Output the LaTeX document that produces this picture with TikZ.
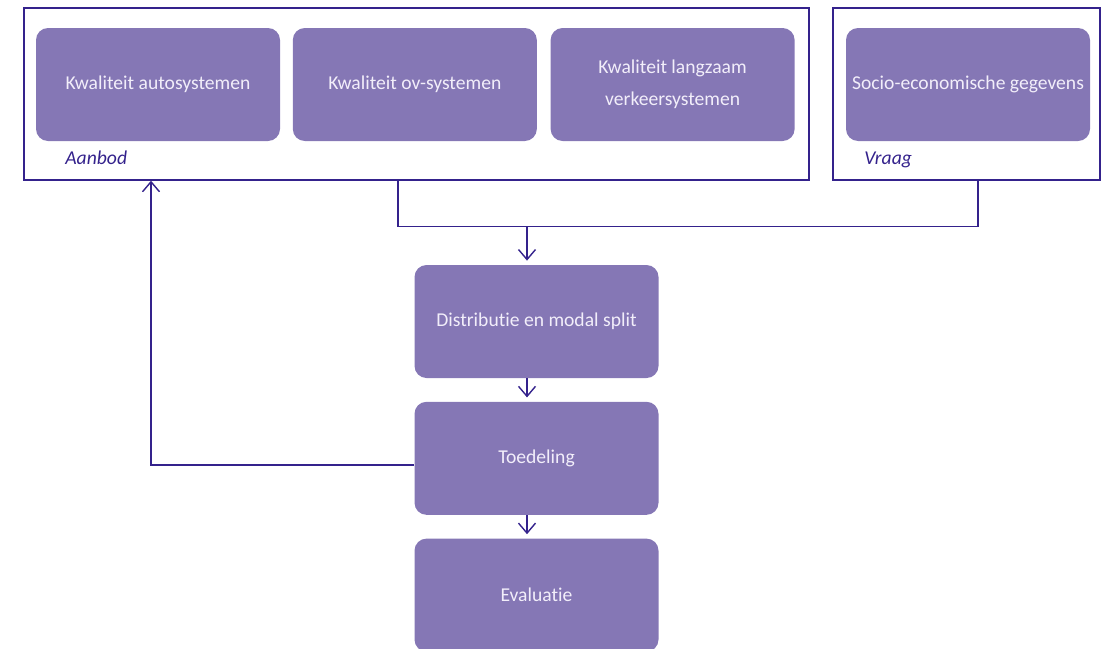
\documentclass[tikz,border=0pt]{standalone}
\usepackage{fontspec}
\setmainfont{Carlito}[Ligatures=NoCommon]
\usetikzlibrary{positioning}
\usetikzlibrary{arrows.meta}
\definecolor{blokpaars}{RGB}{133,119,181}
\definecolor{lijnpaars}{RGB}{52,34,140}
\definecolor{tekstlicht}{RGB}{242,238,250}

\begin{document}
\begin{tikzpicture}[x=0.5pt,y=-0.5pt,
        blok/.style={fill=blokpaars,rounded corners=6pt,minimum width=122pt,
            minimum height=56.5pt,inner sep=0pt,text=tekstlicht,align=center,
            font=\fontsize{9.8}{16}\selectfont},
        kader/.style={draw=lijnpaars,line width=0.7pt,minimum height=86pt,inner sep=0pt},
        kaderlabel/.style={text=lijnpaars,font=\fontsize{9.8}{11}\selectfont\itshape,inner sep=0pt},
        lijn/.style={draw=lijnpaars,line width=0.7pt},
        pijl/.style={lijn,-{Straight Barb[length=5pt,width=8.5pt]},shorten >=2pt}]
    \useasboundingbox (0,0) rectangle (1117,648);
    % kaders aanbod en vraag
    \node[kader,minimum width=392.5pt] (aanbod) at (416.5,94) {};
    \node[kader,minimum width=133.5pt] (vraag) at (966.5,94) {};
    % blokken bovenaan
    \node[blok] (auto) at (158,84.5) {Kwaliteit autosystemen};
    \node[blok,right=6pt of auto] (ov) {Kwaliteit ov-systemen};
    \node[blok,right=6.5pt of ov] (langzaam) {Kwaliteit langzaam\\verkeersystemen};
    \node[blok] (socio) at (968,84.5) {Socio-economische gegevens};
    \node[kaderlabel,anchor=base west] (aanbodtekst) at (65,164) {Aanbod};
    \node[kaderlabel,anchor=base west] (vraagtekst) at (864,164) {Vraag};
    % stappen van het model
    \node[blok] (distributie) at (536.5,321.5) {Distributie en modal split};
    \node[blok,below=11.5pt of distributie] (toedeling) {Toedeling};
    \node[blok,below=11.5pt of toedeling] (evaluatie) {Evaluatie};
    % verbindingen
    \coordinate (knik1) at (398,226.5);
    \coordinate (knik2) at (978,226.5);
    \coordinate (midden) at (527,226.5);
    \coordinate (terug) at (151,465);
    \draw[lijn] (aanbod.south -| knik1) -- (knik1) -- (knik2) -- (vraag.south -| knik2);
    \draw[pijl] (midden) -- (distributie.north -| midden);
    \draw[pijl] (distributie.south -| midden) -- (toedeling.north -| midden);
    \draw[pijl] (toedeling.south -| midden) -- (evaluatie.north -| midden);
    \draw[pijl,shorten >=0pt] (toedeling.west |- terug) -- (terug) -- (aanbod.south -| terug);
\end{tikzpicture}
\end{document}
